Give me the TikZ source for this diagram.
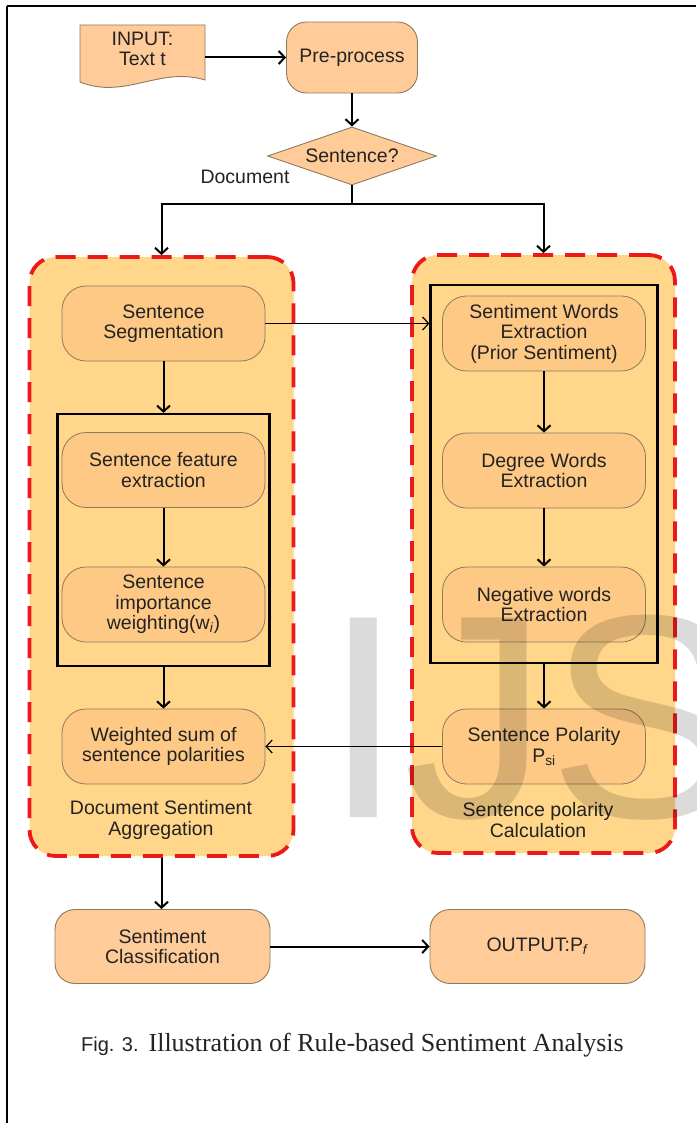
\documentclass[tikz,border=0pt]{standalone}
\usepackage{fontspec}
\setmainfont{Liberation Serif}
\setsansfont{Liberation Sans}
\usetikzlibrary{arrows.meta,positioning,calc,shapes.geometric}
\definecolor{boxorange}{RGB}{255,204,153}
\definecolor{grouporange}{RGB}{255,214,138}
\definecolor{steporange}{RGB}{253,201,132}
\definecolor{dashred}{RGB}{235,25,25}
\definecolor{edgebrown}{RGB}{140,122,95}
\definecolor{inkgray}{RGB}{35,35,35}

\begin{document}
\begin{tikzpicture}[x=1pt,y=-1pt,
  font=\sffamily\fontsize{19.5}{20.5}\selectfont,
  every node/.style={text=inkgray,align=center},
  flowbox/.style={draw=edgebrown,line width=.9pt,fill=boxorange,rounded corners=20pt,minimum width=215pt,minimum height=74pt,inner sep=0pt},
  stepbox/.style={draw=edgebrown,line width=.8pt,fill=steporange,rounded corners=24pt,minimum width=203pt,minimum height=75pt,inner sep=0pt},
  groupbox/.style={draw=dashred,line width=3.8pt,dash pattern=on 20pt off 12pt,fill=grouporange,rounded corners=26pt},
  subbox/.style={draw=black,line width=2.2pt},
  link/.style={line width=2pt,-{Straight Barb[length=6pt,width=13pt]}},
  thinlink/.style={line width=1.2pt,-{Straight Barb[length=6pt,width=13pt]}}]
\useasboundingbox (0,0) rectangle (696,1123);
% page frame
\draw[line width=2.5pt] (7,6)--(696,6);
\draw[line width=1.5pt] (7,6)--(7,1123);

% input document and first steps
\draw[draw=edgebrown,line width=.9pt,fill=boxorange] (80,25) -- (205,25) -- (205,80)
  .. controls (160,66) and (125,100) .. (80,82) -- cycle;
\node[minimum width=125pt,minimum height=48pt,inner sep=0pt] (input) at (142.5,49) {INPUT:\\Text t};
\node[flowbox,minimum width=131pt,minimum height=71pt] (prep) at (352,57.5) {Pre-process};
\node[diamond,draw=edgebrown,line width=.9pt,fill=boxorange,aspect=2.9,minimum width=169pt,minimum height=58pt,inner sep=0pt] (decide) at (352,156) {Sentence?};
\node[anchor=base] (doclabel) at (245,184) {Document};
\coordinate (split) at (352,204);

% the two groups
\node[groupbox,minimum width=264pt,minimum height=599pt] (docgrp) at (161.5,556.5) {};
\node[groupbox,minimum width=263pt,minimum height=598pt] (polgrp) at (543.5,554) {};
\node[subbox,minimum width=212pt,minimum height=252pt] (featbox) at (163.5,540) {};
\node[subbox,minimum width=227pt,minimum height=378pt] (lexbox) at (544,474) {};

% left column
\node[stepbox] (segment) at (163.5,323.5) {Sentence\\Segmentation};
\node[stepbox] (feature) at (163.5,470) {Sentence feature\\extraction};
\node[stepbox] (weight) at (163.5,604.5) {Sentence\\importance\\weighting(w\textsubscript{\textit{i}})};
\node[stepbox] (wsum) at (163.5,746.5) {Weighted sum of\\sentence polarities};
\node (agglabel) at (161,820) {Document Sentiment\\Aggregation};

% right column
\node[stepbox] (senti) at (544,333.5) {Sentiment Words\\Extraction\\(Prior Sentiment)};
\node[stepbox] (degree) at (544,470.5) {Degree Words\\Extraction};
\node[stepbox] (negate) at (544,604.5) {Negative words\\Extraction};
\node[stepbox] (polar) at (544,746.5) {Sentence Polarity\\P\textsubscript{si}};
\node (calclabel) at (538,820) {Sentence polarity\\Calculation};

% output row
\node[flowbox] (classify) at (162.5,946.5) {Sentiment\\Classification};
\node[flowbox] (output) at (537.5,946.5) {OUTPUT:P\textsubscript{\textit{f}}};

% connectors
\draw[link] (input.east |- prep.west) -- (prep.west);
\draw[link] (prep) -- (decide);
\draw[line width=2pt] (decide.south) -- (split);
\draw[link] (split) -| (docgrp.north);
\draw[link] (split) -| (polgrp.north);
\draw[link] (segment.south) -- (featbox.north);
\draw[link] (feature) -- (weight);
\draw[link] (featbox.south) -- (wsum.north);
\draw[thinlink] (segment.east) -- (segment.east -| lexbox.west);
\draw[link] (senti) -- (degree);
\draw[link] (degree) -- (negate);
\draw[link] (lexbox.south) -- (polar.north);
\draw[thinlink] (polar.west) -- (wsum.east);
\draw[link] (docgrp.south) -- (docgrp.south |- classify.north);
\draw[link] (classify) -- (output);

% caption and watermark
\node[anchor=base west,inner sep=0pt] (caption) at (81,1051)
  {\sffamily\fontsize{20}{24}\selectfont Fig. 3.\hspace{10pt}\rmfamily\fontsize{26}{30}\selectfont Illustration of Rule-based Sentiment Analysis};
\node[anchor=base west,inner sep=0pt,text=black,text opacity=.14,font=\sffamily\fontsize{290}{290}\selectfont] (mark) at (323,817) {IJS};
\end{tikzpicture}
\end{document}
